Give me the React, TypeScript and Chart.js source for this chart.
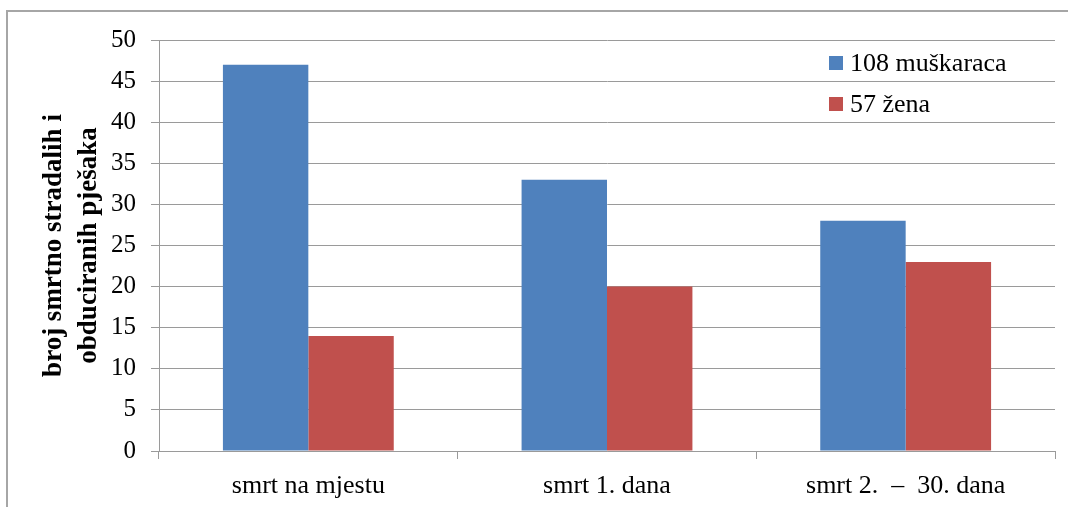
import React, { useEffect, useRef } from "react";
import { Chart, registerables } from "chart.js";

Chart.register(...registerables);

const categories = ["smrt na mjestu", "smrt 1. dana", "smrt 2.  \u2013  30. dana"];
const menLabel = "108 muškaraca";
const womenLabel = "57 žena";
const menValues = [47, 33, 28];
const womenValues = [14, 20, 23];
const yTitleLines = ["broj smrtno stradalih i", "obduciranih pješaka"];
const yMin = 0;
const yMax = 50;
const yStep = 5;

const FONT = "'Liberation Serif', 'Times New Roman', serif";
const BLUE = "#4F81BD";
const RED = "#C0504D";
const GRID = "#9a9a9a";

const decorPlugin = {
  id: "decor",
  beforeDraw(chart: any) {
    const ctx = chart.ctx;
    ctx.save();
    ctx.fillStyle = "#ffffff";
    ctx.fillRect(0, 0, chart.width, chart.height);
    ctx.strokeStyle = "#a6a6a6";
    ctx.lineWidth = 2;
    ctx.beginPath();
    ctx.moveTo(7, chart.height + 5);
    ctx.lineTo(7, 11);
    ctx.lineTo(chart.width + 5, 11);
    ctx.stroke();
    ctx.restore();
  },
  afterDraw(chart: any) {
    const ctx = chart.ctx;
    const area = chart.chartArea;
    ctx.save();
    // y axis title
    ctx.fillStyle = "#000";
    ctx.font = `bold 27px ${FONT}`;
    ctx.textAlign = "center";
    ctx.textBaseline = "alphabetic";
    const cy = (area.top + area.bottom) / 2;
    ctx.translate(0, cy);
    ctx.rotate(-Math.PI / 2);
    ctx.fillText(yTitleLines[0], 0, 61);
    ctx.fillText(yTitleLines[1], 0, 96);
    ctx.restore();

    // legend
    ctx.save();
    const items = chart.data.datasets.map((d: any) => ({ label: d.label, color: d.backgroundColor }));
    const x0 = 829;
    const ys = [63, 104];
    ctx.font = `26px ${FONT}`;
    ctx.textAlign = "left";
    ctx.textBaseline = "middle";
    items.forEach((it: any, i: number) => {
      ctx.fillStyle = it.color;
      ctx.fillRect(x0, ys[i] - 7, 14, 14);
      ctx.fillStyle = "#000";
      ctx.fillText(it.label, x0 + 21, ys[i] + 1);
    });
    ctx.restore();
  },
};

export default function App() {
  const ref = useRef<HTMLCanvasElement | null>(null);
  useEffect(() => {
    if (!ref.current) return;
    const chart = new Chart(ref.current, {
      type: "bar",
      data: {
        labels: categories,
        datasets: [
          { label: menLabel, data: menValues, backgroundColor: BLUE, borderWidth: 0 },
          { label: womenLabel, data: womenValues, backgroundColor: RED, borderWidth: 0 },
        ],
      },
      options: {
        responsive: false,
        animation: false,
        devicePixelRatio: 1,
        layout: { padding: { left: 0, top: 40, right: 13, bottom: 0 } },
        datasets: { bar: { categoryPercentage: 0.572, barPercentage: 1 } },
        plugins: { legend: { display: false }, tooltip: { enabled: false }, title: { display: false } },
        scales: {
          x: {
            afterFit: (s: any) => { s.height = 56; },
            grid: { drawOnChartArea: false, drawTicks: true, tickLength: 8, color: GRID, offset: true },
            border: { display: true, color: GRID, width: 1 },
            ticks: { color: "#000", font: { family: FONT, size: 26 }, padding: 12, maxRotation: 0 },
          },
          y: {
            min: yMin,
            max: yMax,
            afterFit: (s: any) => { s.width = 159; },
            grid: { color: GRID, tickLength: 8, drawTicks: true },
            border: { display: true, color: GRID, width: 1 },
            ticks: { stepSize: yStep, color: "#000", font: { family: FONT, size: 25 }, padding: 15 },
          },
        },
      },
      plugins: [decorPlugin],
    });
    return () => chart.destroy();
  }, []);
  return (
    <div style={{ position: "fixed", left: 0, top: 0, width: 1068, height: 507, overflow: "hidden", background: "#fff" }}>
      <canvas ref={ref} width={1068} height={507} style={{ display: "block" }} />
    </div>
  );
}
